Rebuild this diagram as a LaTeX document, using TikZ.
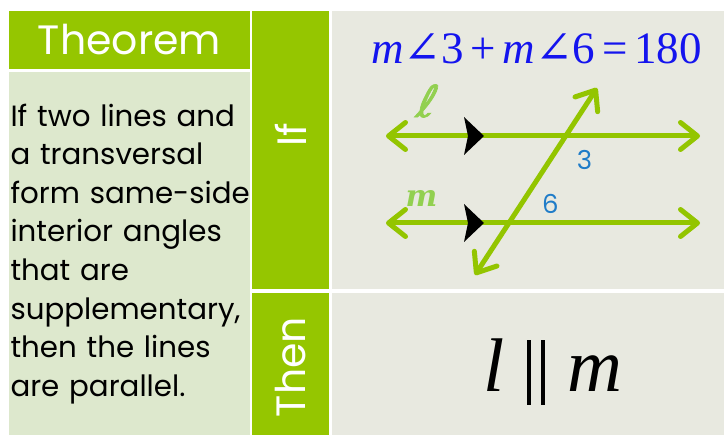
\documentclass[tikz,border=0pt]{standalone}
\usepackage{fontspec}
\usetikzlibrary{arrows.meta,positioning}
\newfontfamily\gothic{Poppins}
\newfontfamily\timesfont{Liberation Serif}
\newfontfamily\anglefont{DejaVu Serif}
\newfontfamily\cursive{DejaVu Sans}[FakeBold=1.5,FakeSlant=0.25]
\definecolor{bargreen}{HTML}{95C600}
\definecolor{palegreen}{HTML}{DDE8CD}
\definecolor{panelgray}{HTML}{E8E9E0}
\definecolor{raygreen}{HTML}{93C500}
\definecolor{namegreen}{HTML}{92D050}
\definecolor{eqblue}{HTML}{1414EE}
\definecolor{angleblue}{HTML}{1F7CC8}
\newcommand{\ang}{{\anglefont ∠}}
\newcommand{\bars}{\rule[-13pt]{4.5pt}{65pt}\hspace{9.5pt}\rule[-13pt]{4.5pt}{65pt}}

\begin{document}
\begin{tikzpicture}[
        x=1pt,y=-1pt,
        bar/.style={fill=bargreen,inner sep=0pt,text=white,
          font=\gothic\fontsize{41}{41}\selectfont},
        panel/.style={fill=panelgray,inner sep=0pt,minimum width=393pt},
        statement/.style={fill=palegreen,inner xsep=1.5pt,inner ysep=0pt,
          text width=238pt,minimum height=363pt,align=left,
          font=\gothic\fontsize{29.3}{38.6}\selectfont},
        ray/.style={draw=raygreen,line width=5pt,line cap=round,
          {Straight Barb[length=17pt,width=27pt,round]}-{Straight Barb[length=17pt,width=27pt,round]}},
        angnum/.style={text=angleblue,font=\gothic\fontsize{26}{26}\selectfont},
        linename/.style={text=namegreen,font=\cursive\fontsize{44}{44}\selectfont}
      ]
        \useasboundingbox (0,0) rectangle (724,435);
        % left column
        \node[bar,minimum width=241pt,minimum height=58pt] (theorem) at (129.5,40) {Theorem};
        \node[statement,below=3pt of theorem] (statement)
          {If~two~lines~and\\a~transversal\\form~\mbox{same-side}\\interior~angles\\that~are\\supplementary,\\then~the~lines\\are~parallel.};
        % if / then bars
        \node[bar,minimum width=77pt,minimum height=278pt,anchor=north west] (ifbar) at (252,11) {};
        \node[bar,minimum width=77pt,minimum height=143pt,below=3pt of ifbar] (thenbar) {};
        \node[bar,rotate=90] (iflabel) at (290.5,135) {If};
        \node[bar,rotate=90] (thenlabel) at (290.5,367) {Then};
        % right panels
        \node[panel,minimum height=278pt,right=2pt of ifbar] (ifpanel) {};
        \node[panel,minimum height=143pt,right=2pt of thenbar] (thenpanel) {};
        \node[anchor=base,text=eqblue,font=\timesfont\fontsize{45}{45}\selectfont] (equation) at (536.5,64)
          {\textit{m}\ang3\hspace{0.15em}+\hspace{0.15em}\textit{m}\ang6\hspace{0.15em}=\hspace{0.15em}180};
        \node[anchor=base,font=\timesfont\fontsize{76}{76}\selectfont] (conclusion) at (553,392)
          {\textit{l}\hspace{22pt}\bars\hspace{22pt}\textit{m}};
        % parallel lines and transversal
        \coordinate (lwest) at (386,136);
        \coordinate (least) at (700,136);
        \coordinate (mwest) at (386,223);
        \coordinate (meast) at (700,223);
        \coordinate (tsouth) at (475,275);
        \coordinate (tnorth) at (597,88);
        \draw[ray] (lwest) -- (least);
        \draw[ray] (mwest) -- (meast);
        \draw[ray] (tsouth) -- (tnorth);
        \fill[black] (464,117) -- (484,136) -- (464,155) -- (468,136) -- cycle;
        \fill[black] (464,204) -- (484,223) -- (464,242) -- (468,223) -- cycle;
        \node[linename] (lname) at (424,101) {ℓ};
        \node[linename,font=\anglefont\bfseries\itshape\fontsize{30}{30}\selectfont] (mname) at (421.5,199) {m};
        \node[angnum] (three) at (584.5,160) {3};
        \node[angnum] (six) at (550.5,204) {6};
      \end{tikzpicture}
\end{document}
